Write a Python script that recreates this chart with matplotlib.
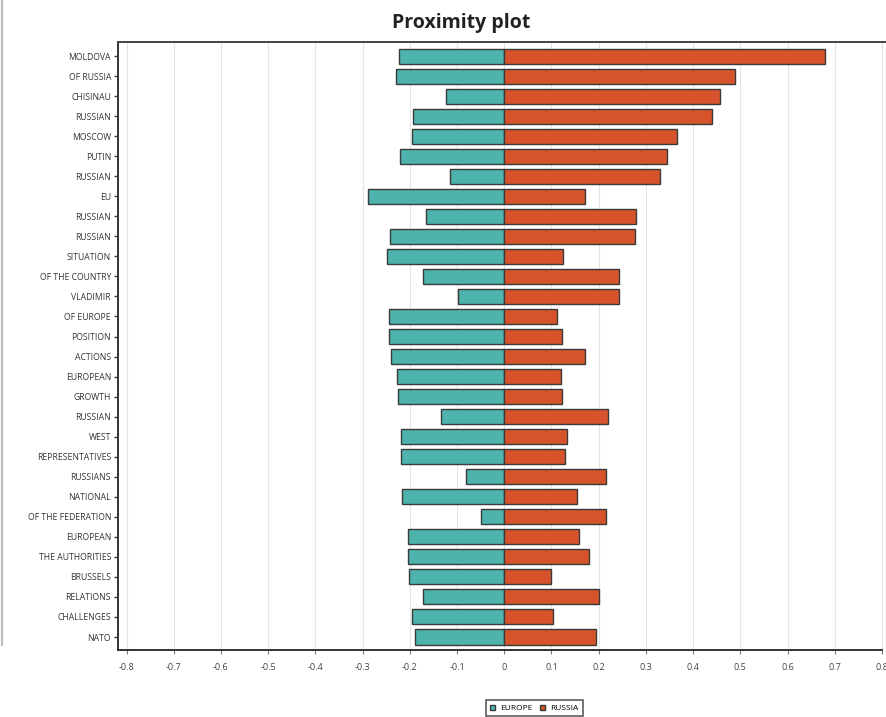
import numpy as np
import matplotlib
matplotlib.use("Agg")
import matplotlib.pyplot as plt
from matplotlib.patches import Patch

# Термины (сверху вниз) и значения для двух корпусов
TERMS = [
    "MOLDOVA", "OF RUSSIA", "CHISINAU", "RUSSIAN", "MOSCOW", "PUTIN", "RUSSIAN",
    "EU", "RUSSIAN", "RUSSIAN", "SITUATION", "OF THE COUNTRY", "VLADIMIR",
    "OF EUROPE", "POSITION", "ACTIONS", "EUROPEAN", "GROWTH", "RUSSIAN", "WEST",
    "REPRESENTATIVES", "RUSSIANS", "NATIONAL", "OF THE FEDERATION", "EUROPEAN",
    "THE AUTHORITIES", "BRUSSELS", "RELATIONS", "CHALLENGES", "NATO",
]
EUROPE = [
    -0.223, -0.229, -0.124, -0.194, -0.196, -0.221, -0.114, -0.288, -0.166, -0.242,
    -0.248, -0.173, -0.097, -0.244, -0.244, -0.240, -0.227, -0.225, -0.133, -0.219,
    -0.219, -0.082, -0.217, -0.050, -0.204, -0.204, -0.202, -0.173, -0.196, -0.189,
]
RUSSIA = [
    0.680, 0.488, 0.457, 0.440, 0.366, 0.345, 0.330, 0.170, 0.280, 0.276,
    0.124, 0.242, 0.242, 0.112, 0.122, 0.170, 0.120, 0.122, 0.219, 0.133,
    0.128, 0.215, 0.154, 0.215, 0.158, 0.179, 0.100, 0.200, 0.103, 0.194,
]
X_TICKS = [-0.8, -0.7, -0.6, -0.5, -0.4, -0.3, -0.2, -0.1, 0, 0.1, 0.2, 0.3, 0.4, 0.5, 0.6, 0.7, 0.8]
X_LABELS = ["-0.8", "-0.7", "-0.6", "-0.5", "-0.4", "-0.3", "-0.2", "-0.1", "0",
            "0.1", "0.2", "0.3", "0.4", "0.5", "0.6", "0.7", "0.8"]

TEAL = "#4db3ac"
RED = "#d6532c"
EDGE = "#3a3a3a"

plt.rcParams["font.family"] = ["Open Sans", "DejaVu Sans"]

fig = plt.figure(figsize=(8.86, 7.17), dpi=100)
ax = fig.add_axes([0.1332, 0.0934, 0.8623, 0.848])

y = np.arange(len(TERMS))
ax.barh(y, EUROPE, height=0.75, color=TEAL, edgecolor=EDGE, linewidth=1.0, zorder=3)
ax.barh(y, RUSSIA, height=0.75, color=RED, edgecolor=EDGE, linewidth=1.0, zorder=3)

ax.set_xlim(-0.818, 0.787)
ax.set_ylim(len(TERMS) - 0.35, -0.7)
ax.set_xticks(X_TICKS)
ax.set_xticklabels(X_LABELS, fontsize=6.5, color="#444444")
ax.set_yticks(y)
ax.set_yticklabels(TERMS, fontsize=6.2, color="#333333")
ax.tick_params(axis="y", length=3, width=1, color="#333333", pad=2)
ax.tick_params(axis="x", length=3, width=0.8, color="#777777", pad=6)

ax.grid(axis="x", color="#e4e4e4", linewidth=0.8, zorder=0)
for side in ["left", "bottom"]:
    ax.spines[side].set_color("#333333")
    ax.spines[side].set_linewidth(1.4)
ax.spines["top"].set_visible(False)
ax.spines["right"].set_color("#e0e0e0")
ax.spines["right"].set_linewidth(0.8)

# верхняя рамка во всю ширину, как в исходнике
fig.add_artist(plt.Line2D([0.1332, 1.0], [0.9414, 0.9414], transform=fig.transFigure,
                          color="#444444", linewidth=1.4))
fig.add_artist(plt.Line2D([0.002, 0.002], [0.1, 1.0], transform=fig.transFigure,
                          color="#bbbbbb", linewidth=1.5))

fig.text(0.521, 0.968, "Proximity plot", ha="center", va="center",
         fontsize=14, fontweight="bold", color="#222222")

handles = [Patch(facecolor=TEAL, edgecolor=EDGE, label="EUROPE"),
           Patch(facecolor=RED, edgecolor=EDGE, label="RUSSIA")]
leg = fig.legend(handles=handles, loc="center", bbox_to_anchor=(0.603, 0.012),
                 ncol=2, fontsize=6, frameon=True, fancybox=False,
                 handlelength=0.6, handleheight=0.6, handletextpad=0.6,
                 columnspacing=1.0, borderpad=0.5)
leg.get_frame().set_edgecolor("#333333")
leg.get_frame().set_linewidth(1.2)

fig.savefig("out.png", dpi=100)
